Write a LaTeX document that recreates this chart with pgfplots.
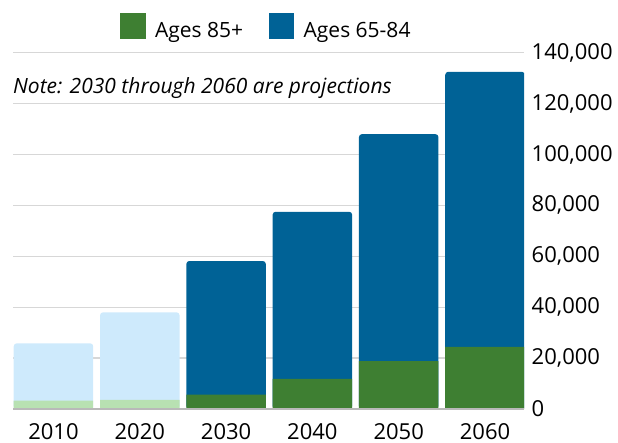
\documentclass[border=0pt]{standalone}
\usepackage{fontspec}
\setmainfont{Open Sans}
\usepackage{pgfplots}
\usepackage{pgfplotstable}
\pgfplotsset{compat=1.18}
\definecolor{darkgreen}{RGB}{62,127,50}
\definecolor{darkblue}{RGB}{0,98,150}
\definecolor{lightblue}{RGB}{206,234,252}
\definecolor{lightgreen}{RGB}{184,225,178}
\definecolor{gridgray}{RGB}{215,215,215}

% year index, total (65+), ages 85+
\pgfplotstableread{
x total old
0 25800 3260
1 38000 3540
}\observed
\pgfplotstableread{
x total old
2 58150 5600
3 77500 11800
4 108000 18860
5 132500 24450
}\projected

\begin{document}
\begin{tikzpicture}
\begin{axis}[
    at={(13bp,34bp)}, anchor=south west,
    scale only axis,
    width=511bp, height=356.3bp,
    xmin=-0.469, xmax=5.452,
    ymin=0, ymax=140000,
    ybar, bar width=79.5bp,
    xtick={0,...,5},
    xticklabels={2010,2020,2030,2040,2050,2060},
    ytick={0,20000,40000,60000,80000,100000,120000,140000},
    yticklabels={0,{20,000},{40,000},{60,000},{80,000},{100,000},{120,000},{140,000}},
    scaled y ticks=false,
    yticklabel pos=right,
    major tick length=0pt,
    ymajorgrids,
    grid style={gridgray, line width=1.2bp},
    x axis line style={draw=none},
    y axis line style={draw=none},
    ticklabel style={font=\fontsize{22bp}{26bp}\selectfont},
    xticklabel style={anchor=north, inner sep=0pt, text depth=0pt, yshift=-14.5bp},
    yticklabel style={anchor=west, inner sep=0pt, xshift=7.5bp},
    legend style={draw=none, fill=none, legend columns=-1,
        at={(axis description cs:0.2094,1)}, anchor=south west,
        yshift=13.7bp, inner sep=0pt, outer sep=0pt,
        font=\fontsize{21bp}{25bp}\selectfont,
        nodes={inner sep=0pt},
        /tikz/every odd column/.append style={column sep=9.3bp},
        /tikz/every even column/.append style={column sep=25.6bp}},
    legend image code/.code={\fill[#1] (0bp,-8.3bp) rectangle (25.7bp,17.4bp);},
]
\addplot[fill=lightblue, draw=none, bar shift=0pt, rounded corners=3bp, forget plot] table[x=x, y=total] {\observed};
\addplot[fill=darkblue, draw=none, bar shift=0pt, rounded corners=3bp, forget plot] table[x=x, y=total] {\projected};
\addplot[fill=lightgreen, draw=none, bar shift=0pt, forget plot] table[x=x, y=old] {\observed};
\addplot[fill=darkgreen, draw=none, bar shift=0pt, forget plot] table[x=x, y=old] {\projected};
\draw[gray!55, line width=1.3bp] (rel axis cs:0,0) -- (rel axis cs:1,0);
\addlegendimage{fill=darkgreen, draw=none}
\addlegendentry{Ages 85+}
\addlegendimage{fill=darkblue, draw=none}
\addlegendentry{Ages 65-84}
\node[anchor=base west, inner sep=0pt, font=\fontsize{21bp}{25bp}\selectfont\itshape]
    at (rel axis cs:0,0.886) {Note: 2030 through 2060 are projections};
\end{axis}
\pgfresetboundingbox
\path[use as bounding box] (0,0) rectangle (618bp,443bp);
\end{tikzpicture}
\end{document}
